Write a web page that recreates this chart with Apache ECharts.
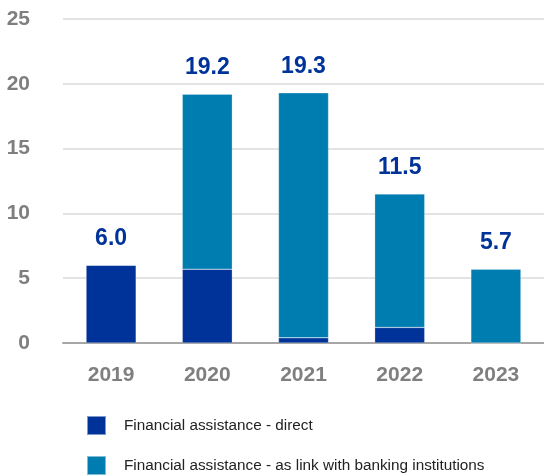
<!DOCTYPE html>
<html>
<head>
<meta charset="utf-8">
<script src="https://cdn.jsdelivr.net/npm/echarts@6/dist/echarts.min.js"></script>
<style>
  html, body { margin: 0; padding: 0; background: #fff; }
  #chart { width: 544px; height: 476px; }
</style>
</head>
<body>
<div id="chart"></div>
<script>
// Financial assistance by year (stacked), with totals above each bar
const years = ['2019', '2020', '2021', '2022', '2023'];
const direct = [6.0, 5.7, 0.4, 1.2, 0];
const bankingLink = [0, 13.5, 18.9, 10.3, 5.7];
const yTicks = [0, 5, 10, 15, 20, 25];

const seriesNames = ['Financial assistance - direct', 'Financial assistance - as link with banking institutions'];
const totals = years.map((_, i) => direct[i] + bankingLink[i]);

const boldFont = '"Liberation Sans", Arial, sans-serif';

const chart = echarts.init(document.getElementById('chart'));
chart.setOption({
  animation: false,
  color: ['#003399', '#007db0'],
  grid: { left: 63, right: 0, top: 19, bottom: 133, containLabel: false },
  legend: {
    orient: 'vertical',
    left: 86,
    top: 415,
    padding: 0,
    itemWidth: 19,
    itemHeight: 19,
    itemGap: 19,
    icon: 'rect',
    textStyle: { fontFamily: 'Liberation Sans, Arial, sans-serif', fontSize: 15.3, color: '#222', padding: [0, 0, 0, 13] },
    data: seriesNames
  },
  xAxis: {
    type: 'category',
    data: years,
    axisTick: { show: false },
    axisLine: { lineStyle: { color: '#a6a6a6', width: 2 } },
    axisLabel: { fontFamily: boldFont, fontSize: 21, fontWeight: 'bold', color: '#7f7f7f', margin: 22 }
  },
  yAxis: {
    type: 'value',
    min: yTicks[0],
    max: yTicks[yTicks.length - 1],
    interval: 5,
    axisLine: { show: false },
    axisTick: { show: false },
    splitLine: { lineStyle: { color: '#e3e3e3', width: 2 } },
    axisLabel: { fontFamily: boldFont, fontSize: 21, fontWeight: 'bold', color: '#7f7f7f', margin: 33 }
  },
  series: [
    {
      name: seriesNames[0],
      type: 'bar',
      stack: 'total',
      barWidth: '52%',
      data: direct,
      itemStyle: { borderColor: 'rgba(255,255,255,0.5)', borderWidth: 0.5 }
    },
    {
      name: seriesNames[1],
      type: 'bar',
      stack: 'total',
      barWidth: '52%',
      data: bankingLink,
      itemStyle: { borderColor: 'rgba(255,255,255,0.5)', borderWidth: 0.5 },
      label: {
        show: true,
        position: 'top',
        distance: 15,
        formatter: p => totals[p.dataIndex].toFixed(1),
        fontFamily: boldFont,
        fontSize: 23,
        fontWeight: 'bold',
        color: '#003399'
      }
    }
  ]
});
</script>
</body>
</html>
